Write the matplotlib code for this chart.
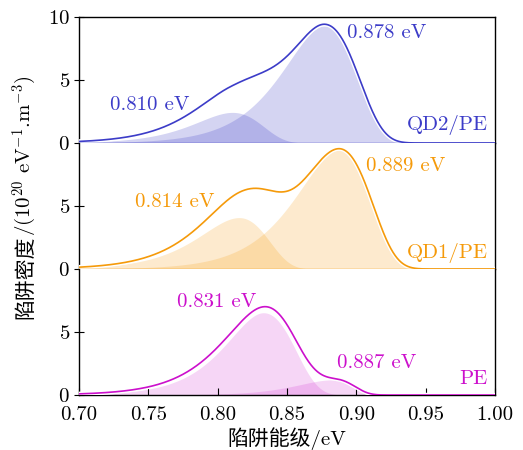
import numpy as np
import matplotlib
matplotlib.use("Agg")
import matplotlib.pyplot as plt
import matplotlib.patheffects as pe

plt.rcParams['font.family'] = ['cmr10', 'Noto Sans CJK SC']
plt.rcParams['mathtext.fontset'] = 'cm'
plt.rcParams['axes.unicode_minus'] = False
plt.rcParams['axes.formatter.use_mathtext'] = True

# ---- data (peak parameters) ----
panel_names = ["QD2/PE", "QD1/PE", "PE"]
panel_colors = ["#3c3cc8", "#f59a0a", "#cc10cc"]
fill_alphas = [0.22, 0.2, 0.17]

# fitted components (filled areas): centre (eV), amplitude, left width, right width
qd2_comp_c = [0.8106, 0.877]
qd2_comp_a = [2.43, 9.30]
qd2_comp_wl = [0.024, 0.0255]
qd2_comp_wr = [0.024, 0.027]
qd2_line_c = [0.808, 0.877]
qd2_line_a = [2.80, 9.42]
qd2_line_wl = [0.025, 0.0255]
qd2_line_wr = [0.031, 0.027]
qd2_labels = ["0.810 eV", "0.878 eV"]

qd1_comp_c = [0.8154, 0.8875]
qd1_comp_a = [4.08, 9.45]
qd1_comp_wl = [0.025, 0.026]
qd1_comp_wr = [0.0235, 0.026]
qd1_line_c = [0.815, 0.8875]
qd1_line_a = [4.40, 9.55]
qd1_line_wl = [0.025, 0.027]
qd1_line_wr = [0.027, 0.026]
qd1_labels = ["0.814 eV", "0.889 eV"]

pe_comp_c = [0.833, 0.882]
pe_comp_a = [6.53, 1.20]
pe_comp_wl = [0.023, 0.022]
pe_comp_wr = [0.025, 0.016]
pe_line_c = [0.833, 0.884]
pe_line_a = [6.70, 1.25]
pe_line_wl = [0.025, 0.022]
pe_line_wr = [0.025, 0.016]
pe_labels = ["0.831 eV", "0.887 eV"]

x_ticks = [0.70, 0.75, 0.80, 0.85, 0.90, 0.95, 1.00]


def peak(x, c, a, wl, wr):
    w = np.where(x < c, wl, wr)
    z = (x - c) / w
    return a * np.exp(1.0 + z - np.exp(z))


panels = [
    (qd2_comp_c, qd2_comp_a, qd2_comp_wl, qd2_comp_wr,
     qd2_line_c, qd2_line_a, qd2_line_wl, qd2_line_wr, qd2_labels),
    (qd1_comp_c, qd1_comp_a, qd1_comp_wl, qd1_comp_wr,
     qd1_line_c, qd1_line_a, qd1_line_wl, qd1_line_wr, qd1_labels),
    (pe_comp_c, pe_comp_a, pe_comp_wl, pe_comp_wr,
     pe_line_c, pe_line_a, pe_line_wl, pe_line_wr, pe_labels),
]

# label placement (data coords): (x, y, ha)
label_pos = [
    [(0.7224, 3.0, 'left'), (0.893, 8.7, 'left')],
    [(0.7404, 5.3, 'left'), (0.907, 8.2, 'left')],
    [(0.7704, 7.36, 'left'), (0.8858, 2.55, 'left')],
]
name_y = [1.43, 1.3, 1.25]

fig = plt.figure(figsize=(5.23, 4.5), dpi=100)
left, width = 79 / 523, (495 - 79) / 523
ph = 126 / 450
bottoms = [1 - 143 / 450, 1 - 269 / 450, 1 - 395 / 450]

xs = np.linspace(0.70, 1.00, 1201)
FS = 15

axes = []
for i, (cc, ca, cwl, cwr, lc, la, lwl, lwr, labs) in enumerate(panels):
    ax = fig.add_axes([left, bottoms[i], width, ph])
    axes.append(ax)
    col = panel_colors[i]
    for c, a, wl, wr in zip(cc, ca, cwl, cwr):
        ax.fill_between(xs, 0, peak(xs, c, a, wl, wr), color=col,
                        alpha=fill_alphas[i], lw=0, zorder=1)
    total = np.zeros_like(xs)
    for c, a, wl, wr in zip(lc, la, lwl, lwr):
        total += peak(xs, c, a, wl, wr)
    ax.plot(xs, total, color=col, lw=1.2, zorder=3,
            path_effects=[pe.Stroke(linewidth=3.2, foreground='white'), pe.Normal()])
    for (tx, ty, ha), t in zip(label_pos[i], labs):
        ax.text(tx, ty, t, color=col, fontsize=FS, ha=ha, va='center')
    ax.text(0.9947, name_y[i], panel_names[i], color=col, fontsize=FS,
            ha='right', va='center')
    ax.set_xlim(0.70, 1.00)
    ax.set_ylim(0, 10)
    ax.set_yticks([0, 5, 10] if i == 0 else [0, 5])
    ax.set_xticks(x_ticks)
    ax.tick_params(axis='y', direction='inout', length=7, labelsize=FS, width=0.8, pad=3)
    ax.tick_params(axis='x', direction='in', length=5, labelsize=FS, width=0.8, pad=8)
    for s in ax.spines.values():
        s.set_linewidth(1.0)
    if i > 0:
        ax.spines['top'].set_visible(False)
    if i < 2:
        ax.spines['bottom'].set_color(col)
        ax.spines['bottom'].set_zorder(4)
        ax.tick_params(axis='x', bottom=False, labelbottom=False)
    else:
        ax.set_xticklabels([f"{v:.2f}" for v in x_ticks])
        ax.set_xlabel("陷阱能级/eV", fontsize=FS, labelpad=2)

# y label: CJK part and math part as two pieces sharing one baseline
ylab_x = 31 / 523
ylab_yc = 0.562
t1 = fig.text(ylab_x, 0, "陷阱密度", rotation=90, rotation_mode='anchor',
              ha='left', va='baseline', fontsize=FS, family='Noto Sans CJK SC')
t2 = fig.text(ylab_x, 0, "/(10$^{20}$ eV$^{-1}$.m$^{-3}$)", rotation=90,
              rotation_mode='anchor', ha='left', va='baseline', fontsize=FS)
fig.canvas.draw()
r = fig.canvas.get_renderer()
H = fig.bbox.height
h1 = t1.get_window_extent(r).height / H
h2 = t2.get_window_extent(r).height / H
start = ylab_yc - (h1 + h2) / 2
t1.set_y(start)
t2.set_y(start + h1)

fig.savefig("out.png", dpi=100)
